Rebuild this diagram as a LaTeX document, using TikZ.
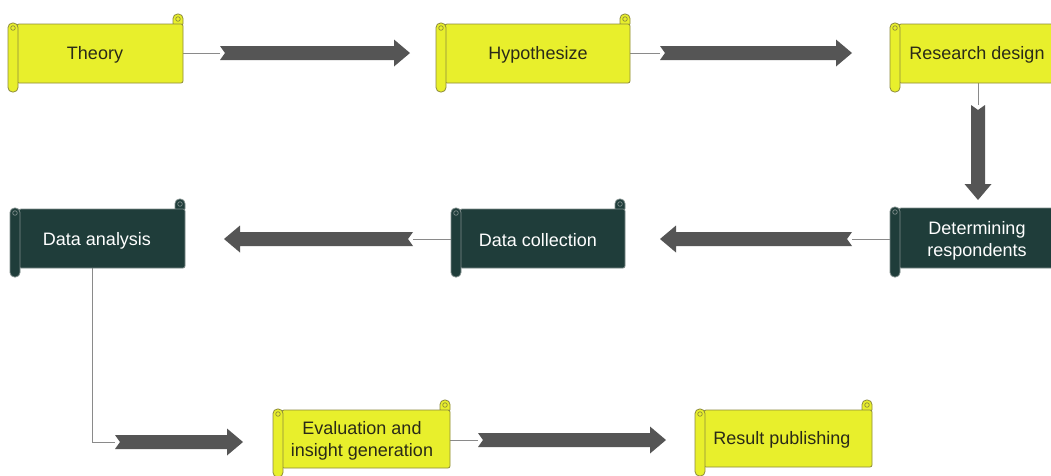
\documentclass[tikz,border=0pt]{standalone}
\usepackage{fontspec}
\setmainfont{Liberation Sans}
\usetikzlibrary{backgrounds,fit}
\definecolor{scrollyellow}{HTML}{E8EF2C}
\definecolor{scrollyline}{HTML}{8C8A3C}
\definecolor{scrolldark}{HTML}{1F3D3A}
\definecolor{scrolldline}{HTML}{7E8C8A}
\definecolor{arrowgray}{HTML}{555555}
\definecolor{conngray}{HTML}{8A8A8A}
\definecolor{darktext}{HTML}{2A2A18}
\tikzset{
  conn/.style={draw=conngray,line width=0.8pt},
  lbl/.style={font=\fontsize{18}{22}\selectfont,align=center,inner sep=0pt,yshift=-1.5pt},
  lbly/.style={lbl,text=darktext},
  lbld/.style={lbl,text=white},
  pics/bigarrow/.style={code={
    \fill[arrowgray] (0,-7) -- ({#1-16},-7) -- ({#1-16},-13.5) -- (#1,0)
      -- ({#1-16},13.5) -- ({#1-16},7) -- (0,7) -- (5,0) -- cycle;}}
}
% #1 name, #2 L, #3 T, #4 R, #5 B, #6 fill, #7 line
\newcommand\scrollshape[7]{%
  \filldraw[fill=#6,draw=#7,line width=0.8pt,rounded corners=4.5pt] ({#4-10},{#3-10}) rectangle (#4,{#3+4});
  \draw[#7,line width=0.7pt] ({#4-5},{#3-5}) circle[radius=2.3pt];
  \filldraw[fill=#6,draw=#7,line width=0.8pt,rounded corners=2pt] ({#2+9},#3) rectangle (#4,#5);
  \path ({#2+9},#3) coordinate (#1-nw) (#4,#5) coordinate (#1-se);
  \node[fit=(#1-nw)(#1-se),inner sep=0pt] (#1) {};
  \filldraw[fill=#6,draw=#7,line width=0.8pt,rounded corners=4.5pt] (#2,{#3-1}) rectangle ({#2+10},{#5+9});
  \draw[#7,line width=0.7pt] ({#2+5},{#3+4}) circle[radius=2.3pt];
}
\begin{document}
\begin{tikzpicture}[x=1pt,y=-1pt]
\clip (0,0) rectangle (1051,475);

% scrolls
\scrollshape{theory}{8}{24}{183}{83}{scrollyellow}{scrollyline}
\scrollshape{hypo}{436}{24}{630}{83}{scrollyellow}{scrollyline}
\scrollshape{research}{890}{24}{1066}{83}{scrollyellow}{scrollyline}
\scrollshape{determ}{890}{208}{1066}{268}{scrolldark}{scrolldline}
\scrollshape{collect}{451}{209}{625}{268}{scrolldark}{scrolldline}
\scrollshape{analysis}{10}{209}{185}{268}{scrolldark}{scrolldline}
\scrollshape{evalu}{273}{410}{450}{468}{scrollyellow}{scrollyline}
\scrollshape{result}{695}{410}{872}{467}{scrollyellow}{scrollyline}

% labels
\node[lbly] (theory-t) at (95,53) {Theory};
\node[lbly] (hypo-t) at (538,53) {Hypothesize};
\node[lbly] (research-t) at (977,53) {Research design};
\node[lbld] (determ-t) at (977,239) {Determining\\respondents};
\node[lbld] (collect-t) at (538,239) {Data collection};
\node[lbld] (analysis-t) at (97,239) {Data analysis};
\node[lbly] (evalu-t) at (362,439) {Evaluation and\\insight generation};
\node[lbly] (result-t) at (782,438) {Result publishing};

% arrow tails
\coordinate (a1) at (220,53);
\coordinate (a2) at (660,53);
\coordinate (a3) at (978,105);
\coordinate (a4) at (852,239);
\coordinate (a5) at (413,239);
\coordinate (turn6) at (92,442);
\coordinate (a6) at (115,442);
\coordinate (a7) at (478,440);

\pic at (a1) {bigarrow=190};
\pic at (a2) {bigarrow=192};
\pic[rotate=-90] at (a3) {bigarrow=95};
\pic[rotate=180] at (a4) {bigarrow=192};
\pic[rotate=180] at (a5) {bigarrow=189};
\pic at (a6) {bigarrow=128};
\pic at (a7) {bigarrow=188};

\begin{pgfonlayer}{background}
\fill[white] (0,0) rectangle (1051,475);
\draw[conn] (theory.east |- a1) -- (a1);
\draw[conn] (hypo.east |- a2) -- (a2);
\draw[conn] (research.south -| a3) -- (a3);
\draw[conn] (determ.west |- a4) -- (a4);
\draw[conn] (collect.west |- a5) -- (a5);
\draw[conn] (analysis.south -| turn6) -- (turn6) -- (a6);
\draw[conn] (evalu.east |- a7) -- (a7);
\end{pgfonlayer}
\end{tikzpicture}
\end{document}
